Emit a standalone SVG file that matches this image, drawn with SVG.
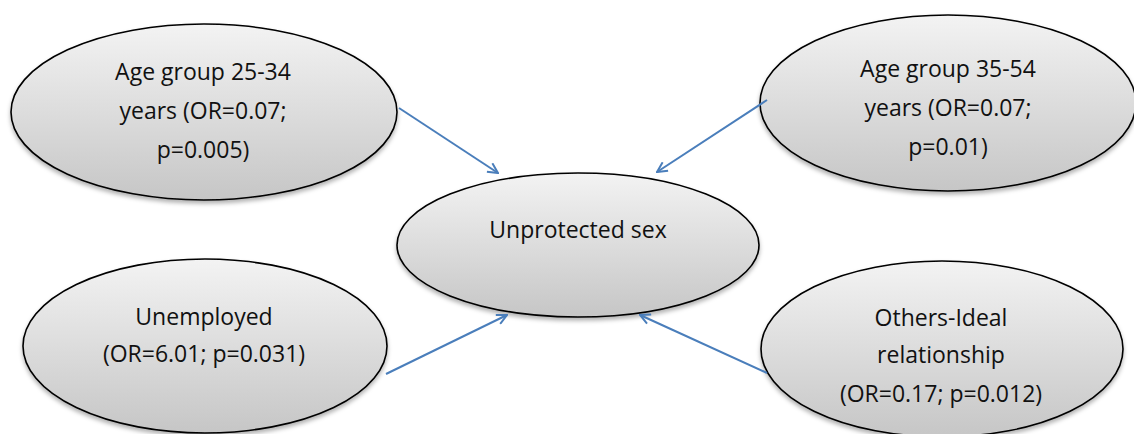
<svg xmlns="http://www.w3.org/2000/svg" width="1134" height="434" viewBox="0 0 1134 434">
<style>
.node ellipse{fill:url(#g);stroke:#000;stroke-width:1.6;filter:url(#sh)}
.node text{font-family:"Open Sans","Liberation Sans",sans-serif;font-size:23px;fill:#111;text-anchor:middle}
.conn line{stroke:#4a7ebb;stroke-width:2;marker-end:url(#ah)}
</style>
<defs>
<linearGradient id="g" x1="0" y1="0" x2="0" y2="1">
<stop offset="0" stop-color="#f3f3f3"/>
<stop offset="1" stop-color="#c6c6c6"/>
</linearGradient>
<filter id="sh" x="-10%" y="-10%" width="120%" height="130%">
<feDropShadow dx="0" dy="3" stdDeviation="2" flood-color="#000" flood-opacity="0.3"/>
</filter>
<marker id="ah" viewBox="0 0 12 12" refX="11" refY="6" markerWidth="12" markerHeight="12" markerUnits="userSpaceOnUse" orient="auto">
<path d="M1,1 L11,6 L1,11" fill="none" stroke="#4a7ebb" stroke-width="2"/>
</marker>
</defs>
<rect width="1134" height="434" fill="#fff"/>
<g id="n-age2534" class="node">
<ellipse cx="204" cy="112" rx="193" ry="88"/>
<text x="203" y="80">Age group 25-34</text>
<text x="203" y="119">years (OR=0.07;</text>
<text x="203" y="158">p=0.005)</text>
</g>
<g id="n-age3554" class="node">
<ellipse cx="948" cy="103" rx="188" ry="88"/>
<text x="948" y="77">Age group 35-54</text>
<text x="948" y="116">years (OR=0.07;</text>
<text x="948" y="155">p=0.01)</text>
</g>
<g id="n-unprotected" class="node">
<ellipse cx="578" cy="245" rx="181" ry="72"/>
<text x="578" y="238">Unprotected sex</text>
</g>
<g id="n-unemployed" class="node">
<ellipse cx="205" cy="346" rx="182" ry="87"/>
<text x="204" y="325">Unemployed</text>
<text x="204" y="362">(OR=6.01; p=0.031)</text>
</g>
<g id="n-others" class="node">
<ellipse cx="942" cy="349" rx="181" ry="88"/>
<text x="941" y="326">Others-Ideal</text>
<text x="941" y="363">relationship</text>
<text x="941" y="402">(OR=0.17; p=0.012)</text>
</g>
<g id="connectors" class="conn">
<line x1="399" y1="108" x2="498" y2="173"/>
<line x1="767" y1="100" x2="657" y2="172"/>
<line x1="386" y1="374" x2="507" y2="315"/>
<line x1="767" y1="373" x2="640" y2="315"/>
</g>
</svg>
